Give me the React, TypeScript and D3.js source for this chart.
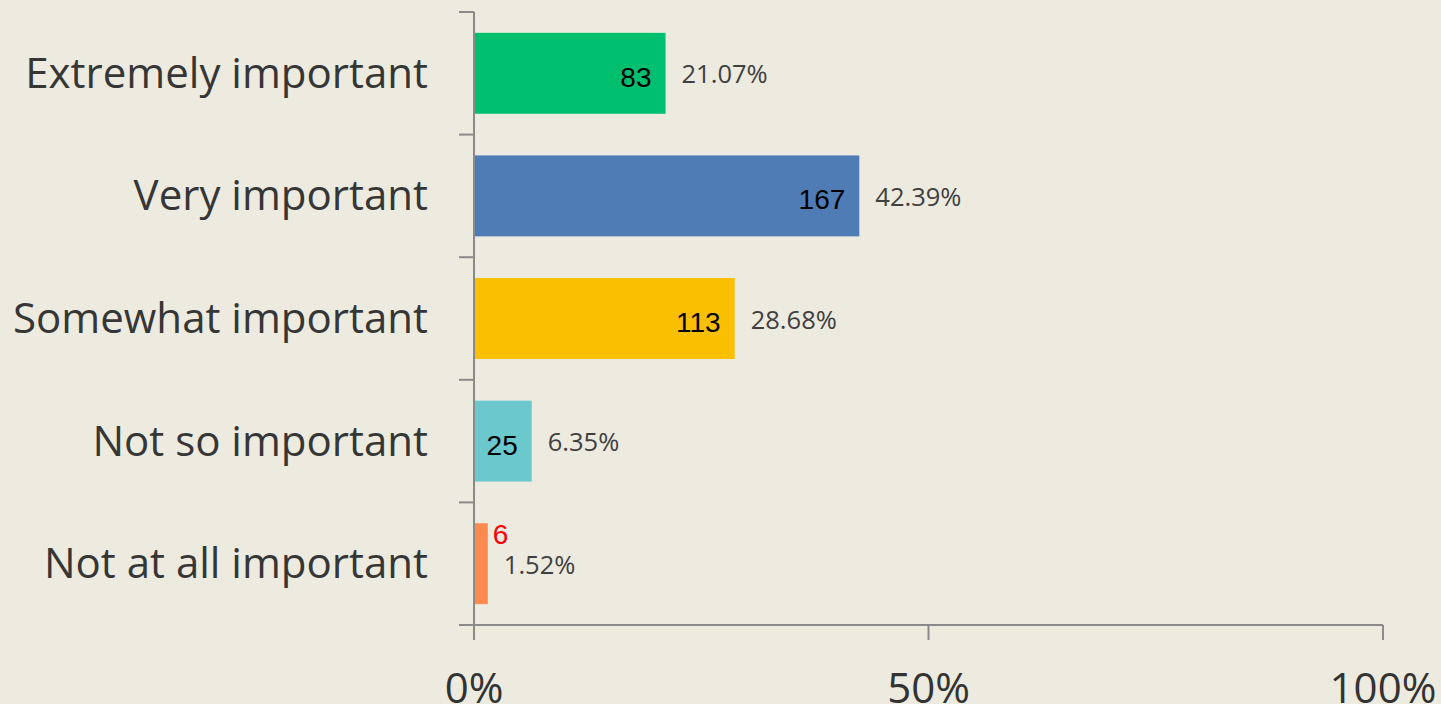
import * as d3 from "d3";
import React from "react";

const categories = ["Extremely important", "Very important", "Somewhat important", "Not so important", "Not at all important"];
const counts = [83, 167, 113, 25, 6];
const percents = [21.07, 42.39, 28.68, 6.35, 1.52];
const colors = ["#00BF6F", "#507CB6", "#F9BF00", "#6BC8CD", "#FF8A4F"];
const xTicks = [0, 0.5, 1];

const W = 1441;
const H = 704;
const AXIS = "#8a8a8a";
const SANS = "'Open Sans', 'Noto Sans', sans-serif";

export default function App() {
  React.useEffect(() => {
    document.body.style.margin = "0";
  }, []);

  const x = d3.scaleLinear().domain([0, 1]).range([474, 1383]);
  const y = d3.scaleBand<string>()
    .domain(categories)
    .range([12, 625])
    .paddingInner(0.34)
    .paddingOuter(0.17);

  // tick marks sit on the band boundaries
  const yTicks = d3.range(categories.length + 1).map(i => y.range()[0] + i * y.step());
  const y0 = y.range()[1];

  return (
    <svg width={W} height={H} style={{ display: "block" }}>
      <rect width={W} height={H} fill="#EDEBE0" />

      {/* bars */}
      {categories.map((c, i) => (
        <rect key={c} x={x(0)} y={y(c)} width={x(percents[i] / 100) - x(0)} height={y.bandwidth()} fill={colors[i]} />
      ))}

      {/* axes */}
      <line x1={x(0)} x2={x(0)} y1={yTicks[0]} y2={y0 + 15} stroke={AXIS} strokeWidth={2} />
      {yTicks.map((t, i) => (
        <line key={i} x1={x(0) - 15} x2={x(0)} y1={t} y2={t} stroke={AXIS} strokeWidth={2} />
      ))}
      <line x1={x(0) - 15} x2={x(1)} y1={y0} y2={y0} stroke={AXIS} strokeWidth={2} />
      {xTicks.map(t => (
        <g key={t}>
          <line x1={x(t)} x2={x(t)} y1={y0} y2={y0 + 15} stroke={AXIS} strokeWidth={2} />
          <text x={x(t)} y={703} textAnchor="middle" fontFamily={SANS} fontSize={42} fill="#333">
            {d3.format(".0%")(t)}
          </text>
        </g>
      ))}

      {/* category labels */}
      {categories.map(c => (
        <text key={c} x={x(0) - 46} y={y(c)! + y.bandwidth() / 2 + 14.5} textAnchor="end" fontFamily={SANS} fontSize={42} fill="#363636">
          {c}
        </text>
      ))}

      {/* counts + percents */}
      {categories.map((c, i) => {
        const end = x(percents[i] / 100);
        const mid = y(c)! + y.bandwidth() / 2;
        const narrow = end - x(0) < 30;
        return (
          <g key={c}>
            <text
              x={narrow ? end + 5 : end - 14}
              y={narrow ? mid - 20 : mid + 13.5}
              textAnchor={narrow ? "start" : "end"}
              fontFamily="'Liberation Sans', Arial, sans-serif"
              fontSize={28}
              fill={narrow ? "#FF0000" : "#000"}
            >
              {counts[i]}
            </text>
            <text x={end + 16} y={mid + 10} fontFamily={SANS} fontSize={25.5} fill="#404040">
              {percents[i].toFixed(2) + "%"}
            </text>
          </g>
        );
      })}
    </svg>
  );
}
